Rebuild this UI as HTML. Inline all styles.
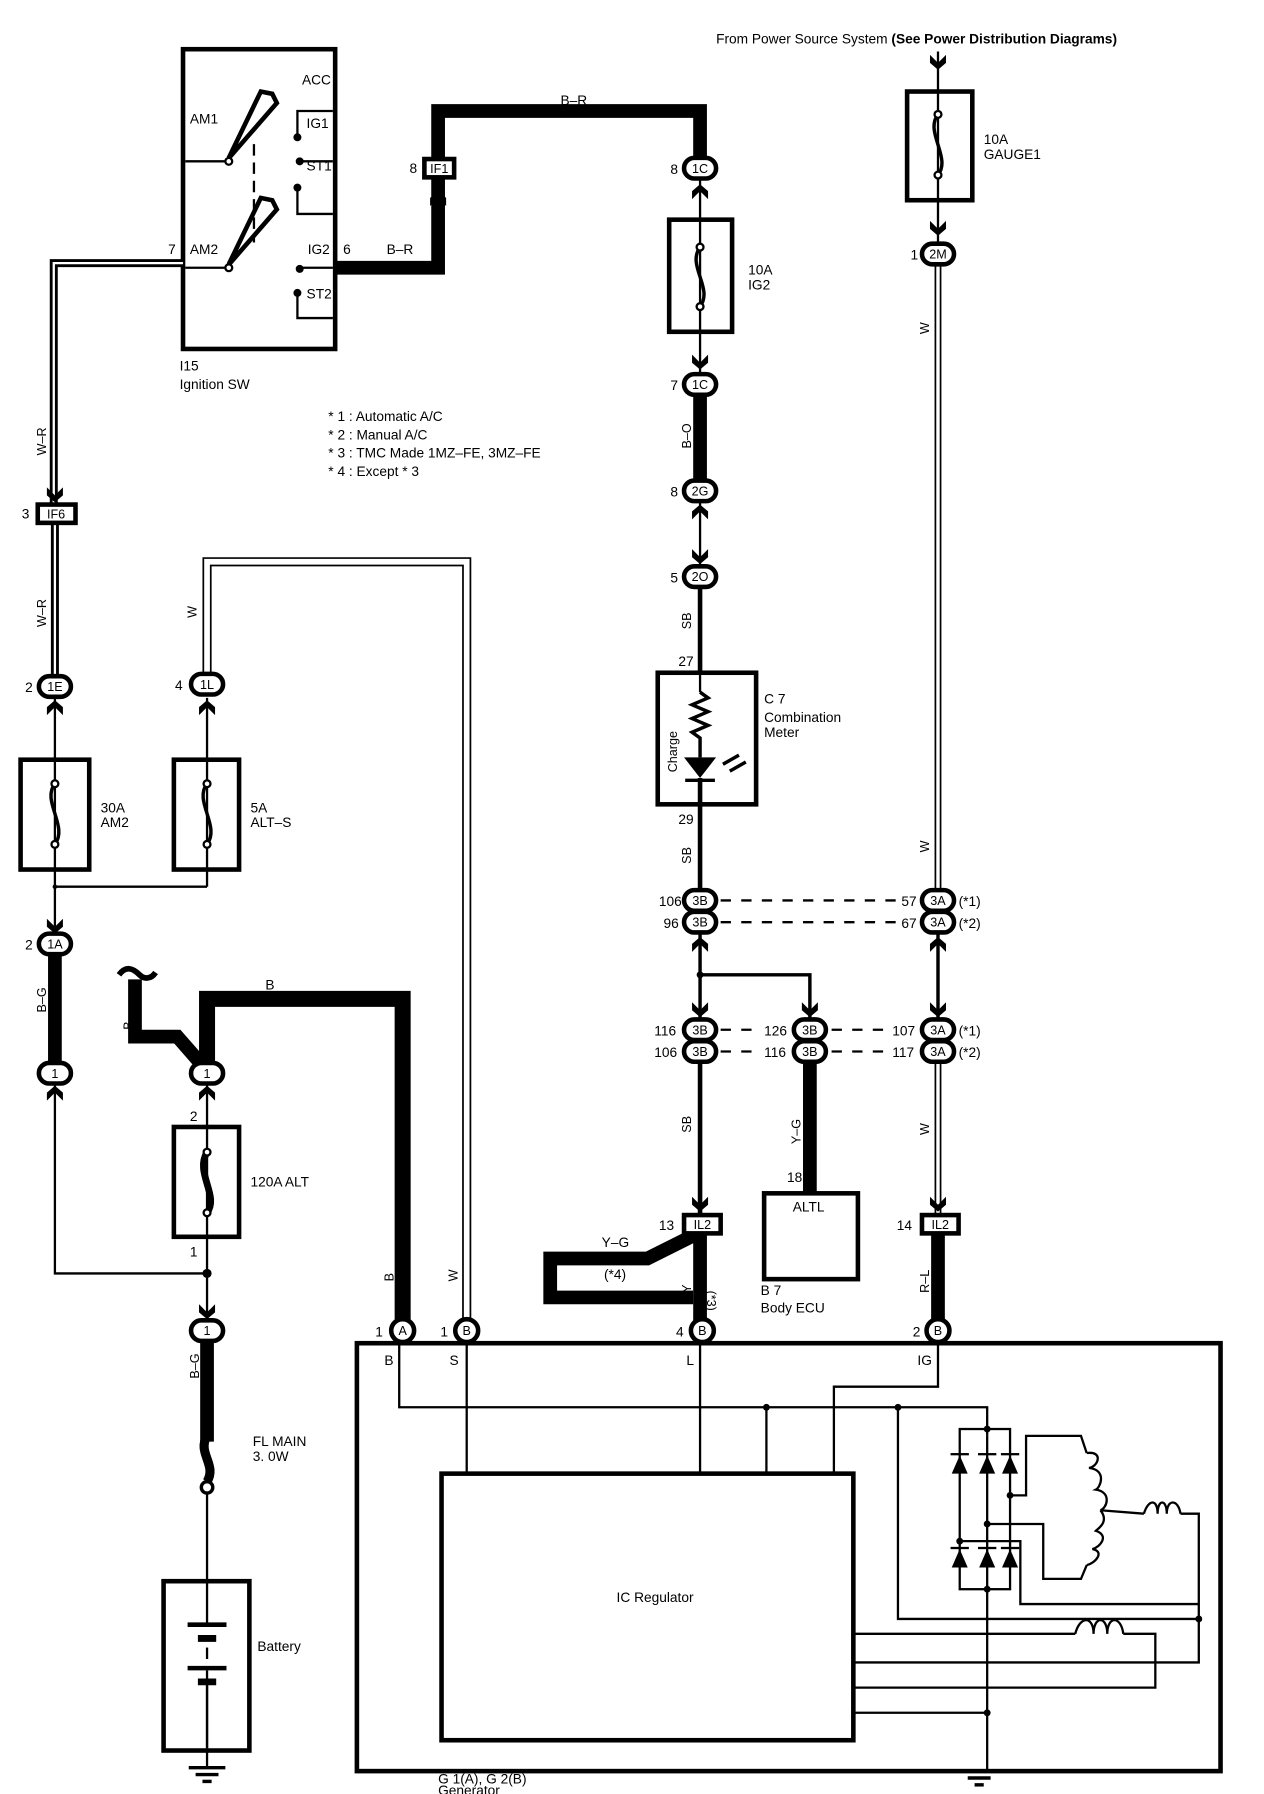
<!DOCTYPE html>
<html><head><meta charset="utf-8"><style>
html,body{margin:0;padding:0;background:#fff;}
svg{display:block;}
text{font-family:"Liberation Sans",sans-serif;fill:#000;}
</style></head><body>
<svg width="1264" height="1794" viewBox="0 0 1105 1568" preserveAspectRatio="none" xmlns="http://www.w3.org/2000/svg">
<defs>
<g id="ad"><polygon points="-7,-12 0,-5 7,-12 7,-5 0,1 -7,-5" fill="#000"/></g>
<g id="au"><polygon points="-7,12 0,5 7,12 7,5 0,-1 -7,5" fill="#000"/></g>
</defs>
<g fill="none" stroke="#000" stroke-linejoin="miter">
<rect x="160" y="43" width="133" height="262" stroke-width="4"/>
<line x1="162" y1="141" x2="198" y2="141" stroke-width="2"/>
<line x1="162" y1="234" x2="198" y2="234" stroke-width="2"/>
<polygon points="200,138 228,80 238,82 242,90 202,136" stroke-width="4"/>
<polygon points="200,231 228,173 238,175 242,183 202,229" stroke-width="4"/>
<circle cx="200" cy="141" r="3" fill="#fff" stroke-width="2"/>
<circle cx="200" cy="234" r="3" fill="#fff" stroke-width="2"/>
<line x1="222" y1="126" x2="222" y2="212" stroke-width="2" stroke-dasharray="10,6"/>
<polyline points="291,97 260,97 260,119" stroke-width="2"/>
<circle cx="260" cy="120" r="3" fill="#000"/>
<line x1="264" y1="141" x2="291" y2="141" stroke-width="2"/><circle cx="262" cy="141" r="3" fill="#000"/>
<polyline points="291,187 260,187 260,164" stroke-width="2"/><circle cx="260" cy="164" r="3" fill="#000"/>
<line x1="264" y1="234" x2="291" y2="234" stroke-width="2"/><circle cx="262" cy="235" r="3" fill="#000"/>
<polyline points="291,278 260,278 260,256" stroke-width="2"/><circle cx="260" cy="256" r="3" fill="#000"/>
<polyline points="293,234 383,234 383,97 612,97 612,138" stroke-width="12"/>
<polyline points="160,230 47,230 47,440" stroke-width="7"/>
<polyline points="160,230 47,230 47,440" stroke-width="2" stroke="#fff"/>
<polyline points="48,456 48,590" stroke-width="7"/>
<polyline points="48,456 48,590" stroke-width="2" stroke="#fff"/>
<line x1="48" y1="610" x2="48" y2="775" stroke-width="2"/>
<rect x="18" y="664" width="60" height="96" stroke-width="4"/>
<line x1="181" y1="610" x2="181" y2="775" stroke-width="2"/>
<rect x="152" y="664" width="57" height="96" stroke-width="4"/>
<polyline points="48,775 181,775" stroke-width="2"/>
<line x1="48" y1="775" x2="48" y2="815" stroke-width="2"/>
<polyline points="181,590 181,491 408,491 408,1155" stroke-width="8"/>
<polyline points="181,590 181,491 408,491 408,1155" stroke-width="5" stroke="#fff"/>
<line x1="48" y1="835" x2="48" y2="928" stroke-width="12"/>
<polyline points="48,948 48,1113 181,1113" stroke-width="2"/>
<polyline points="181,930 181,873 352,873 352,1155" stroke-width="14"/>
<polyline points="118,856 118,906 155,906 176,930" stroke-width="12"/>
<path d="M104,852 C110,844 116,846 122,852 C126,856 132,856 136,850" stroke-width="5"/>
<line x1="181" y1="948" x2="181" y2="1155" stroke-width="2"/>
<rect x="152" y="985" width="57" height="96" stroke-width="4"/>
<line x1="181" y1="1172" x2="181" y2="1260" stroke-width="12"/>
<path d="M181,1255 C172,1270 190,1280 181,1295" stroke-width="8"/>
<circle cx="181" cy="1300" r="5" fill="#fff" stroke-width="3"/>
<line x1="181" y1="1305" x2="181" y2="1545" stroke-width="2"/>
<rect x="143" y="1382" width="75" height="148" stroke-width="4" fill="#fff"/>
<line x1="181" y1="1384" x2="181" y2="1528" stroke-width="2"/>
<rect x="164" y="1420" width="34" height="40" fill="#fff" stroke="none"/>
<line x1="164" y1="1420" x2="198" y2="1420" stroke-width="4"/>
<line x1="173" y1="1432" x2="189" y2="1432" stroke-width="6"/>
<line x1="181" y1="1440" x2="181" y2="1450" stroke-width="2"/>
<line x1="164" y1="1458" x2="198" y2="1458" stroke-width="4"/>
<line x1="173" y1="1470" x2="189" y2="1470" stroke-width="6"/>
<line x1="181" y1="1472" x2="181" y2="1528" stroke-width="2"/>
<g stroke-width="3"><line x1="165" y1="1545" x2="197" y2="1545"/><line x1="171" y1="1551" x2="191" y2="1551"/><line x1="177" y1="1557" x2="185" y2="1557"/></g>
<g stroke-width="3"><line x1="840" y1="1548" x2="872" y2="1548"/><line x1="846" y1="1554" x2="866" y2="1554"/><line x1="852" y1="1560" x2="860" y2="1560"/></g>
<line x1="612" y1="155" x2="612" y2="328" stroke-width="2"/>
<rect x="585" y="192" width="55" height="98" stroke-width="4"/>
<line x1="612" y1="345" x2="612" y2="420" stroke-width="12"/>
<line x1="612" y1="438" x2="612" y2="495" stroke-width="2"/>
<line x1="612" y1="513" x2="612" y2="780" stroke-width="4"/>
<rect x="575" y="588" width="86" height="115" stroke-width="4" fill="#fff"/>
<line x1="612" y1="590" x2="612" y2="605" stroke-width="2"/>
<polyline points="612,605 619,610 605,616 619,622 605,628 619,634 605,640 612,645 612,662" stroke-width="3"/>
<polygon points="598,662 626,662 612,680" fill="#000" stroke="none"/>
<line x1="599" y1="682" x2="625" y2="682" stroke-width="3"/>
<line x1="612" y1="680" x2="612" y2="703" stroke-width="4"/>
<line x1="632" y1="668" x2="646" y2="660" stroke-width="3"/><line x1="638" y1="674" x2="652" y2="666" stroke-width="3"/>
<line x1="612" y1="815" x2="612" y2="892" stroke-width="3"/>
<polyline points="612,852 708,852 708,892" stroke-width="3"/>
<line x1="612" y1="928" x2="612" y2="1062" stroke-width="4"/>
<line x1="708" y1="928" x2="708" y2="1043" stroke-width="12"/>
<rect x="668" y="1043" width="82" height="75" stroke-width="4"/>
<line x1="612" y1="1078" x2="612" y2="1155" stroke-width="12"/>
<polyline points="606,1080 566,1100 481,1100 481,1134 606,1134" stroke-width="12"/>
<g stroke-width="2" stroke-dasharray="9,9">
<line x1="630" y1="787" x2="790" y2="787"/><line x1="630" y1="806" x2="790" y2="806"/>
<line x1="630" y1="900" x2="660" y2="900"/><line x1="630" y1="919" x2="660" y2="919"/>
<line x1="727" y1="900" x2="780" y2="900"/><line x1="727" y1="919" x2="780" y2="919"/>
</g>
<line x1="820" y1="45" x2="820" y2="212" stroke-width="2"/>
<rect x="793" y="80" width="57" height="95" stroke-width="4"/>
<line x1="820" y1="232" x2="820" y2="778" stroke-width="6"/>
<line x1="820" y1="232" x2="820" y2="778" stroke-width="3" stroke="#fff"/>
<line x1="820" y1="815" x2="820" y2="892" stroke-width="3"/>
<line x1="820" y1="928" x2="820" y2="1062" stroke-width="6"/>
<line x1="820" y1="928" x2="820" y2="1062" stroke-width="3" stroke="#fff"/>
<line x1="820" y1="1078" x2="820" y2="1155" stroke-width="12"/>
<g stroke-width="3">
<path d="M48,685 C36,700 60,722 48,738"/>
<path d="M181,685 C169,700 193,722 181,738"/>
<path d="M612,216 C600,232 624,252 612,268"/>
<path d="M820,100 C808,115 832,138 820,153"/>
</g>
<path d="M181,1007 C170,1025 192,1045 181,1060" stroke-width="6"/>
<g fill="#fff" stroke-width="2">
<circle cx="48" cy="685" r="3"/><circle cx="48" cy="738" r="3"/>
<circle cx="181" cy="685" r="3"/><circle cx="181" cy="738" r="3"/>
<circle cx="612" cy="216" r="3"/><circle cx="612" cy="268" r="3"/>
<circle cx="820" cy="100" r="3"/><circle cx="820" cy="153" r="3"/>
<circle cx="181" cy="1007" r="3"/><circle cx="181" cy="1060" r="3"/>
</g>
<rect x="312" y="1174" width="755" height="374" stroke-width="4"/>
<rect x="386" y="1288" width="360" height="233" stroke-width="4"/>
<polyline points="349,1172 349,1230 863,1230 863,1255" stroke-width="2"/>
<line x1="408" y1="1172" x2="408" y2="1288" stroke-width="2"/>
<line x1="612" y1="1172" x2="612" y2="1288" stroke-width="2"/>
<line x1="670" y1="1230" x2="670" y2="1288" stroke-width="2"/>
<polyline points="729,1288 729,1212 820,1212 820,1172" stroke-width="2"/>
<polyline points="785,1230 785,1415 1048,1415 1048,1453 746,1453" stroke-width="2"/>
<polyline points="746,1428 940,1428" stroke-width="2"/>
<path d="M940,1428 C944,1412 956,1412 956,1428 C956,1412 968,1412 968,1428 C968,1412 980,1412 982,1428" stroke-width="2"/>
<polyline points="982,1428 1010,1428 1010,1475 746,1475" stroke-width="2"/>
<line x1="746" y1="1497" x2="863" y2="1497" stroke-width="2"/>
<line x1="863" y1="1255" x2="863" y2="1548" stroke-width="2"/>
<rect x="839" y="1249" width="44" height="140" stroke-width="2"/>
<g fill="#000" stroke="none">
<polygon points="832,1288 846,1288 839,1272"/><polygon points="856,1288 870,1288 863,1272"/><polygon points="876,1288 890,1288 883,1272"/>
<polygon points="832,1370 846,1370 839,1354"/><polygon points="856,1370 870,1370 863,1354"/><polygon points="876,1370 890,1370 883,1354"/>
<rect x="831" y="1270" width="16" height="2"/><rect x="855" y="1270" width="16" height="2"/><rect x="875" y="1270" width="16" height="2"/>
<rect x="831" y="1352" width="16" height="2"/><rect x="855" y="1352" width="16" height="2"/><rect x="875" y="1352" width="16" height="2"/>
<circle cx="670" cy="1230" r="3"/><circle cx="785" cy="1230" r="3"/><circle cx="863" cy="1249" r="3"/><circle cx="863" cy="1389" r="3"/>
<circle cx="883" cy="1307" r="3"/><circle cx="863" cy="1332" r="3"/><circle cx="839" cy="1347" r="3"/><circle cx="1048" cy="1415" r="3"/><circle cx="863" cy="1497" r="3"/>
<circle cx="181" cy="1113" r="4"/><circle cx="48" cy="775" r="2"/><circle cx="612" cy="852" r="3"/>
</g>
<polyline points="883,1307 897,1307 897,1255 945,1255 950,1270" stroke-width="2"/>
<path d="M950,1270 C965,1268 960,1282 952,1283 C968,1285 962,1300 958,1302 C972,1304 968,1318 962,1320" stroke-width="2"/>
<polyline points="962,1320 1000,1323" stroke-width="2"/>
<path d="M1000,1323 C1004,1310 1012,1310 1012,1323 C1012,1310 1020,1310 1020,1323 C1020,1310 1030,1310 1032,1323" stroke-width="2"/>
<polyline points="1032,1323 1048,1323 1048,1415" stroke-width="2"/>
<polyline points="863,1332 912,1332 912,1380 945,1380 950,1368" stroke-width="2"/>
<path d="M962,1320 C970,1330 960,1336 958,1338 C970,1342 962,1352 955,1354 C966,1356 958,1366 950,1368" stroke-width="2"/>
<polyline points="839,1347 892,1347 892,1402 1048,1402" stroke-width="2"/>
</g>
<g>
<use href="#au" x="383" y="168"/>
<use href="#au" x="612" y="162"/>
<use href="#ad" x="612" y="322"/>
<use href="#au" x="612" y="442"/>
<use href="#ad" x="612" y="492"/>
<use href="#ad" x="820" y="60"/>
<use href="#ad" x="820" y="205"/>
<use href="#ad" x="48" y="438"/>
<use href="#au" x="48" y="613"/>
<use href="#au" x="181" y="613"/>
<use href="#ad" x="48" y="815"/>
<use href="#au" x="48" y="950"/>
<use href="#au" x="181" y="950"/>
<use href="#ad" x="181" y="1152"/>
<use href="#au" x="612" y="820"/>
<use href="#au" x="820" y="820"/>
<use href="#ad" x="612" y="888"/>
<use href="#ad" x="708" y="888"/>
<use href="#ad" x="820" y="888"/>
<use href="#ad" x="612" y="1058"/>
<use href="#ad" x="820" y="1058"/>
</g>
<g stroke="#000" stroke-width="4" fill="#fff">
<rect x="371" y="139" width="26" height="16"/>
<rect x="33" y="441" width="33" height="16"/>
<rect x="598" y="1062" width="32" height="16"/>
<rect x="806" y="1062" width="32" height="16"/>
<rect x="598" y="138" width="28" height="18" rx="9"/>
<rect x="598" y="327" width="28" height="18" rx="9"/>
<rect x="598" y="420" width="28" height="18" rx="9"/>
<rect x="598" y="495" width="28" height="18" rx="9"/>
<rect x="806" y="213" width="28" height="18" rx="9"/>
<rect x="34" y="591" width="28" height="18" rx="9"/>
<rect x="167" y="589" width="28" height="18" rx="9"/>
<rect x="34" y="816" width="28" height="18" rx="9"/>
<rect x="34" y="929" width="28" height="18" rx="9"/>
<rect x="167" y="929" width="28" height="18" rx="9"/>
<rect x="167" y="1154" width="28" height="18" rx="9"/>
<rect x="598" y="778" width="28" height="18" rx="9"/><rect x="598" y="797" width="28" height="18" rx="9"/>
<rect x="806" y="778" width="28" height="18" rx="9"/><rect x="806" y="797" width="28" height="18" rx="9"/>
<rect x="598" y="891" width="28" height="18" rx="9"/><rect x="598" y="910" width="28" height="18" rx="9"/>
<rect x="694" y="891" width="28" height="18" rx="9"/><rect x="694" y="910" width="28" height="18" rx="9"/>
<rect x="806" y="891" width="28" height="18" rx="9"/><rect x="806" y="910" width="28" height="18" rx="9"/>
<circle cx="352" cy="1163" r="10"/><circle cx="408" cy="1163" r="10"/><circle cx="614" cy="1163" r="10"/><circle cx="820" cy="1163" r="10"/>
</g>
<g font-size="12">
<text x="626" y="38">From Power Source System <tspan font-weight="bold">(See Power Distribution Diagrams)</tspan></text>
<text x="264" y="74">ACC</text><text x="166" y="108">AM1</text><text x="268" y="112">IG1</text><text x="268" y="149">ST1</text>
<text x="147" y="222">7</text><text x="166" y="222">AM2</text><text x="269" y="222">IG2</text><text x="300" y="222">6</text><text x="338" y="222">B–R</text>
<text x="268" y="261">ST2</text>
<text x="490" y="92">B–R</text>
<text x="157" y="324">I15</text><text x="157" y="340">Ignition SW</text>
<text x="287" y="368">* 1 : Automatic A/C</text><text x="287" y="384">* 2 : Manual A/C</text>
<text x="287" y="400">* 3 : TMC Made 1MZ–FE,  3MZ–FE</text><text x="287" y="416">* 4 : Except * 3</text>
<text x="358" y="151">8</text><text x="586" y="152">8</text><text x="586" y="341">7</text><text x="586" y="434">8</text><text x="586" y="509">5</text>
<text x="796" y="227">1</text><text x="19" y="453">3</text><text x="22" y="605">2</text><text x="153" y="603">4</text><text x="22" y="830">2</text>
<text x="654" y="240">10A</text><text x="654" y="253">IG2</text>
<text x="860" y="126">10A</text><text x="860" y="139">GAUGE1</text>
<text x="88" y="710">30A</text><text x="88" y="723">AM2</text>
<text x="219" y="710">5A</text><text x="219" y="723">ALT–S</text>
<text x="593" y="582">27</text><text x="593" y="720">29</text>
<text x="668" y="615">C 7</text><text x="668" y="631">Combination</text><text x="668" y="644">Meter</text>
<text x="232" y="865">B</text><text x="166" y="980">2</text><text x="166" y="1098">1</text>
<text x="219" y="1037">120A ALT</text>
<text x="221" y="1264">FL MAIN</text><text x="221" y="1277">3. 0W</text>
<text x="225" y="1443">Battery</text>
<text x="539" y="1400">IC Regulator</text>
<text x="383" y="1559">G 1(A), G 2(B)</text><text x="383" y="1569">Generator</text>
<text x="328" y="1168">1</text><text x="385" y="1168">1</text><text x="591" y="1168">4</text><text x="798" y="1168">2</text>
<text x="336" y="1193">B</text><text x="393" y="1193">S</text><text x="600" y="1193">L</text><text x="802" y="1193">IG</text>
<text x="576" y="792">106</text><text x="580" y="811">96</text><text x="788" y="792">57</text><text x="788" y="811">67</text>
<text x="838" y="792">(*1)</text><text x="838" y="811">(*2)</text>
<text x="572" y="905">116</text><text x="572" y="924">106</text><text x="668" y="905">126</text><text x="668" y="924">116</text>
<text x="780" y="905">107</text><text x="780" y="924">117</text><text x="838" y="905">(*1)</text><text x="838" y="924">(*2)</text>
<text x="688" y="1033">18</text><text x="693" y="1059">ALTL</text>
<text x="665" y="1132">B 7</text><text x="665" y="1147">Body ECU</text>
<text x="576" y="1075">13</text><text x="784" y="1075">14</text>
<text x="526" y="1090">Y–G</text><text x="528" y="1118">(*4)</text>
</g>
<g font-size="11" text-anchor="middle">
<text x="384" y="151">IF1</text><text x="49" y="453">IF6</text><text x="614" y="1074">IL2</text><text x="822" y="1074">IL2</text>
<text x="612" y="151">1C</text><text x="612" y="340">1C</text><text x="612" y="433">2G</text><text x="612" y="508">2O</text>
<text x="820" y="226">2M</text><text x="48" y="604">1E</text><text x="181" y="602">1L</text><text x="48" y="829">1A</text>
<text x="48" y="942">1</text><text x="181" y="942">1</text><text x="181" y="1167">1</text>
<text x="612" y="791">3B</text><text x="612" y="810">3B</text><text x="820" y="791">3A</text><text x="820" y="810">3A</text>
<text x="612" y="904">3B</text><text x="612" y="923">3B</text><text x="708" y="904">3B</text><text x="708" y="923">3B</text>
<text x="820" y="904">3A</text><text x="820" y="923">3A</text>
<text x="352" y="1167">A</text><text x="408" y="1167">B</text><text x="614" y="1167">B</text><text x="820" y="1167">B</text>
</g>
<g font-size="11">
<text transform="translate(40,398) rotate(-90)">W–R</text>
<text transform="translate(40,548) rotate(-90)">W–R</text>
<text transform="translate(172,540) rotate(-90)">W</text>
<text transform="translate(40,885) rotate(-90)">B–G</text>
<text transform="translate(116,900) rotate(-90)">B</text>
<text transform="translate(344,1120) rotate(-90)">B</text>
<text transform="translate(400,1120) rotate(-90)">W</text>
<text transform="translate(174,1205) rotate(-90)">B–G</text>
<text transform="translate(604,392) rotate(-90)">B–O</text>
<text transform="translate(604,550) rotate(-90)">SB</text>
<text transform="translate(604,755) rotate(-90)">SB</text>
<text transform="translate(604,990) rotate(-90)">SB</text>
<text transform="translate(700,1000) rotate(-90)">Y–G</text>
<text transform="translate(812,292) rotate(-90)">W</text>
<text transform="translate(812,745) rotate(-90)">W</text>
<text transform="translate(812,992) rotate(-90)">W</text>
<text transform="translate(812,1130) rotate(-90)">R–L</text>
<text transform="translate(592,675) rotate(-90)">Charge</text>
<text transform="translate(604,1130) rotate(-90)">Y</text>
<text transform="translate(618,1128) rotate(90)">(*3)</text>
</g>
</svg>
</body></html>
